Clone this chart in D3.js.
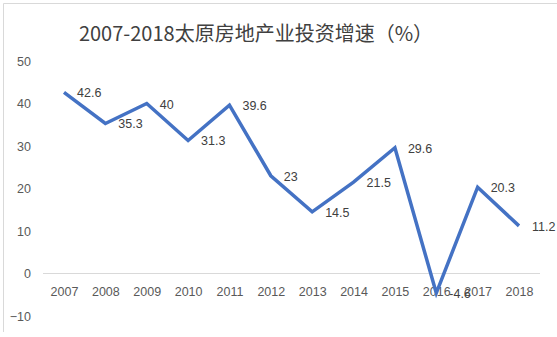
<!DOCTYPE html>
<html><head><meta charset="utf-8">
<script src="https://cdn.jsdelivr.net/npm/d3@7"></script>
<style>html,body{margin:0;padding:0;background:#fff;}svg{display:block;}</style>
</head><body>
<script>
const years = ["2007","2008","2009","2010","2011","2012","2013","2014","2015","2016","2017","2018"];
const growth = [42.6, 35.3, 40, 31.3, 39.6, 23, 14.5, 21.5, 29.6, -4.6, 20.3, 11.2];
const yTicks = [-10, 0, 10, 20, 30, 40, 50];
const title = "2007-2018太原房地产业投资增速（%）";

const W = 557, H = 337;
const svg = d3.select("body").append("svg").attr("width", W).attr("height", H);
svg.append("rect").attr("width", W).attr("height", H).attr("fill", "#fff");

// chart border
svg.append("path").attr("d", `M3.5,332 V3.5 H557`).attr("fill", "none").attr("stroke", "#d9d9d9").attr("stroke-width", 1);

const x = d3.scalePoint().domain(years).range([64, 519]);
const y = d3.scaleLinear().domain([-10, 50]).range([316, 61]);

const font = "'Liberation Sans', Arial, sans-serif";

svg.append("text").attr("x", 256).attr("y", 32).attr("text-anchor", "middle")
  .attr("dominant-baseline", "central")
  .attr("font-family", "'Noto Sans CJK SC', sans-serif").attr("font-size", 20)
  .attr("fill", "#404040").text(title);

// zero line
svg.append("line").attr("x1", 43).attr("x2", 540).attr("y1", y(0)).attr("y2", y(0))
  .attr("stroke", "#d9d9d9").attr("stroke-width", 1);

// y axis
const yAxis = d3.axisLeft(y).tickValues(yTicks).tickSize(0).tickPadding(0);
const gy = svg.append("g").attr("transform", "translate(31,0)").call(yAxis);
gy.select(".domain").remove();
gy.selectAll("text").attr("font-family", font).attr("font-size", 12.5).attr("fill", "#595959");

// x axis
const xAxis = d3.axisBottom(x).tickSize(0).tickPadding(0);
const gx = svg.append("g").attr("transform", "translate(0,287)").call(xAxis);
gx.select(".domain").remove();
gx.selectAll("text").attr("font-family", font).attr("font-size", 12.5).attr("fill", "#595959");

// line
const line = d3.line().x((d, i) => x(years[i])).y(d => y(d));
svg.append("path").datum(growth).attr("d", line).attr("fill", "none")
  .attr("stroke", "#4472C4").attr("stroke-width", 3.5).attr("stroke-linejoin", "miter");

// data labels
svg.selectAll(".lbl").data(growth).enter().append("text")
  .attr("x", (d, i) => x(years[i]) + 13).attr("y", d => y(d) + 1)
  .attr("dominant-baseline", "central")
  .attr("font-family", font).attr("font-size", 12.5).attr("fill", "#404040")
  .text(d => d);
</script>
</body></html>
